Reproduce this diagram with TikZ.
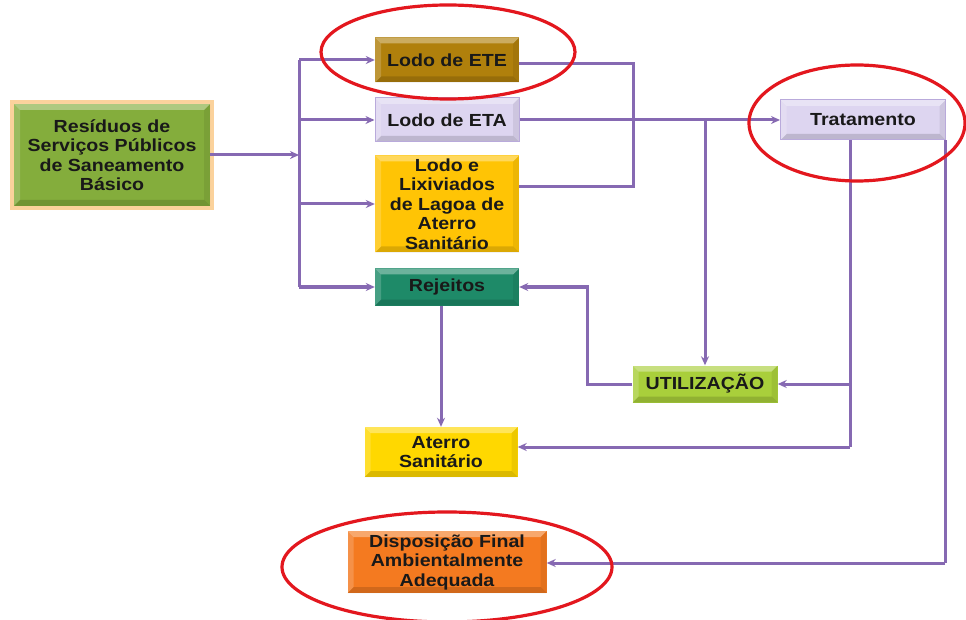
\documentclass[tikz,border=0pt]{standalone}
\usepackage{fontspec}
\setmainfont[FakeStretch=1.12]{Liberation Sans}
\usetikzlibrary{arrows.meta}
\definecolor{resg}{HTML}{84AD3C}
\definecolor{glowc}{HTML}{FBD29C}
\definecolor{etec}{HTML}{B0800C}
\definecolor{lav}{HTML}{DDD5F0}
\definecolor{lavb}{HTML}{B9AADB}
\definecolor{goldc}{HTML}{FFC405}
\definecolor{tealc}{HTML}{1E8A68}
\definecolor{utilg}{HTML}{A9CF3B}
\definecolor{aterc}{HTML}{FFD800}
\definecolor{dispc}{HTML}{F47A20}
\definecolor{linec}{HTML}{8669B2}
\definecolor{ringred}{HTML}{E3171E}
\tikzset{
  bevel/.style={path picture={
    \fill[white,opacity=.35] (path picture bounding box.north west) -- (path picture bounding box.north east) -- ([xshift=-6pt,yshift=-6pt]path picture bounding box.north east) -- ([xshift=6pt,yshift=-6pt]path picture bounding box.north west) -- cycle;
    \fill[black,opacity=.14] (path picture bounding box.south west) -- (path picture bounding box.south east) -- ([xshift=-6pt,yshift=6pt]path picture bounding box.south east) -- ([xshift=6pt,yshift=6pt]path picture bounding box.south west) -- cycle;
    \fill[white,opacity=.18] (path picture bounding box.north west) -- ([xshift=6pt,yshift=-6pt]path picture bounding box.north west) -- ([xshift=6pt,yshift=6pt]path picture bounding box.south west) -- (path picture bounding box.south west) -- cycle;
    \fill[black,opacity=.07] (path picture bounding box.north east) -- ([xshift=-6pt,yshift=-6pt]path picture bounding box.north east) -- ([xshift=-6pt,yshift=6pt]path picture bounding box.south east) -- (path picture bounding box.south east) -- cycle;
  }},
  box/.style={rectangle, bevel, inner sep=0pt, align=center, text=black!90,
    font=\bfseries\fontsize{17.5}{19.5}\selectfont},
  line/.style={draw=linec, line width=3pt},
  arr/.style={line, -{Stealth[length=9pt,width=8pt]}},
  ring/.style={draw=ringred, line width=3.2pt}
}
\begin{document}
\begin{tikzpicture}[x=1pt,y=-1pt]
\clip (0,0) rectangle (966,620);
\fill[white] (0,0) rectangle (966,620);
% nodes
\node[box, fill=resg, preaction={draw=glowc, line width=8pt},
  minimum width=196pt, minimum height=102pt] (res) at (112,155)
  {Resíduos de\\Serviços Públicos\\de Saneamento\\Básico};
\node[box, fill=etec, minimum width=144pt, minimum height=45pt] (ete) at (447,60) {Lodo de ETE};
\node[box, fill=lav, draw=lavb, line width=1pt, minimum width=144pt, minimum height=44pt] (eta) at (447,120) {Lodo de ETA};
\node[box, fill=goldc, minimum width=144pt, minimum height=97pt] (lix) at (447,204)
  {Lodo e\\Lixiviados\\de Lagoa de\\Aterro\\Sanitário};
\node[box, fill=tealc, minimum width=144pt, minimum height=37pt] (rej) at (447,287) {Rejeitos};
\node[box, fill=utilg, minimum width=145pt, minimum height=37pt] (util) at (705,384) {UTILIZAÇÃO};
\node[box, fill=lav, draw=lavb, line width=1pt, minimum width=165pt, minimum height=40pt] (trat) at (863,120) {Tratamento};
\node[box, fill=aterc, minimum width=153pt, minimum height=50pt] (ater) at (441,452) {Aterro\\Sanitário};
\node[box, fill=dispc, minimum width=199pt, minimum height=62pt] (disp) at (447,562)
  {Disposição Final\\Ambientalmente\\Adequada};
% bus
\coordinate (b1) at (299,60);
\coordinate (b2) at (299,120);
\coordinate (b3) at (299,204);
\coordinate (b4) at (299,287);
\draw[line] (b1) -- (b4);
\draw[arr] (res.east) -- (res.east -| b1);
\draw[arr] (b1) -- (ete.west);
\draw[arr] (b2) -- (eta.west);
\draw[arr] (b3) -- (lix.west);
\draw[arr] (b4) -- (rej.west);
% ETE / Lix loop
\coordinate (j1) at (633,64);
\coordinate (j2) at (633,187);
\draw[line] (ete.east |- j1) -- (j1) -- (j2) -- (j2 -| lix.east);
% ETA -> Tratamento
\draw[arr] (eta.east) -- (trat.west);
\coordinate (split) at (705,120);
\draw[arr] (split) -- (util.north);
% Tratamento down
\coordinate (tb) at (850,447);
\coordinate (tu) at (850,384);
\draw[line] (trat.south -| tb) -- (tb);
\draw[arr] (tu) -- (util.east);
\draw[arr] (tb) -- (tb -| ater.east);
\coordinate (tr) at (945,563);
\draw[line] ([xshift=-1pt]trat.south east) -- (tr);
\draw[arr] (tr) -- (tr -| disp.east);
% Utilizacao -> Rejeitos
\coordinate (u1) at (587,0);
\draw[arr] (util.west) -| (u1 |- rej.east) -- (rej.east);
% Rejeitos -> Aterro
\draw[arr] (ater.north |- rej.south) -- (ater.north);
% red rings
\draw[ring] (448,52) ellipse [x radius=127pt, y radius=47pt];
\draw[ring] (857,123) ellipse [x radius=108pt, y radius=58pt];
\draw[ring] (447,567) ellipse [x radius=165pt, y radius=55pt];
\end{tikzpicture}
\end{document}
